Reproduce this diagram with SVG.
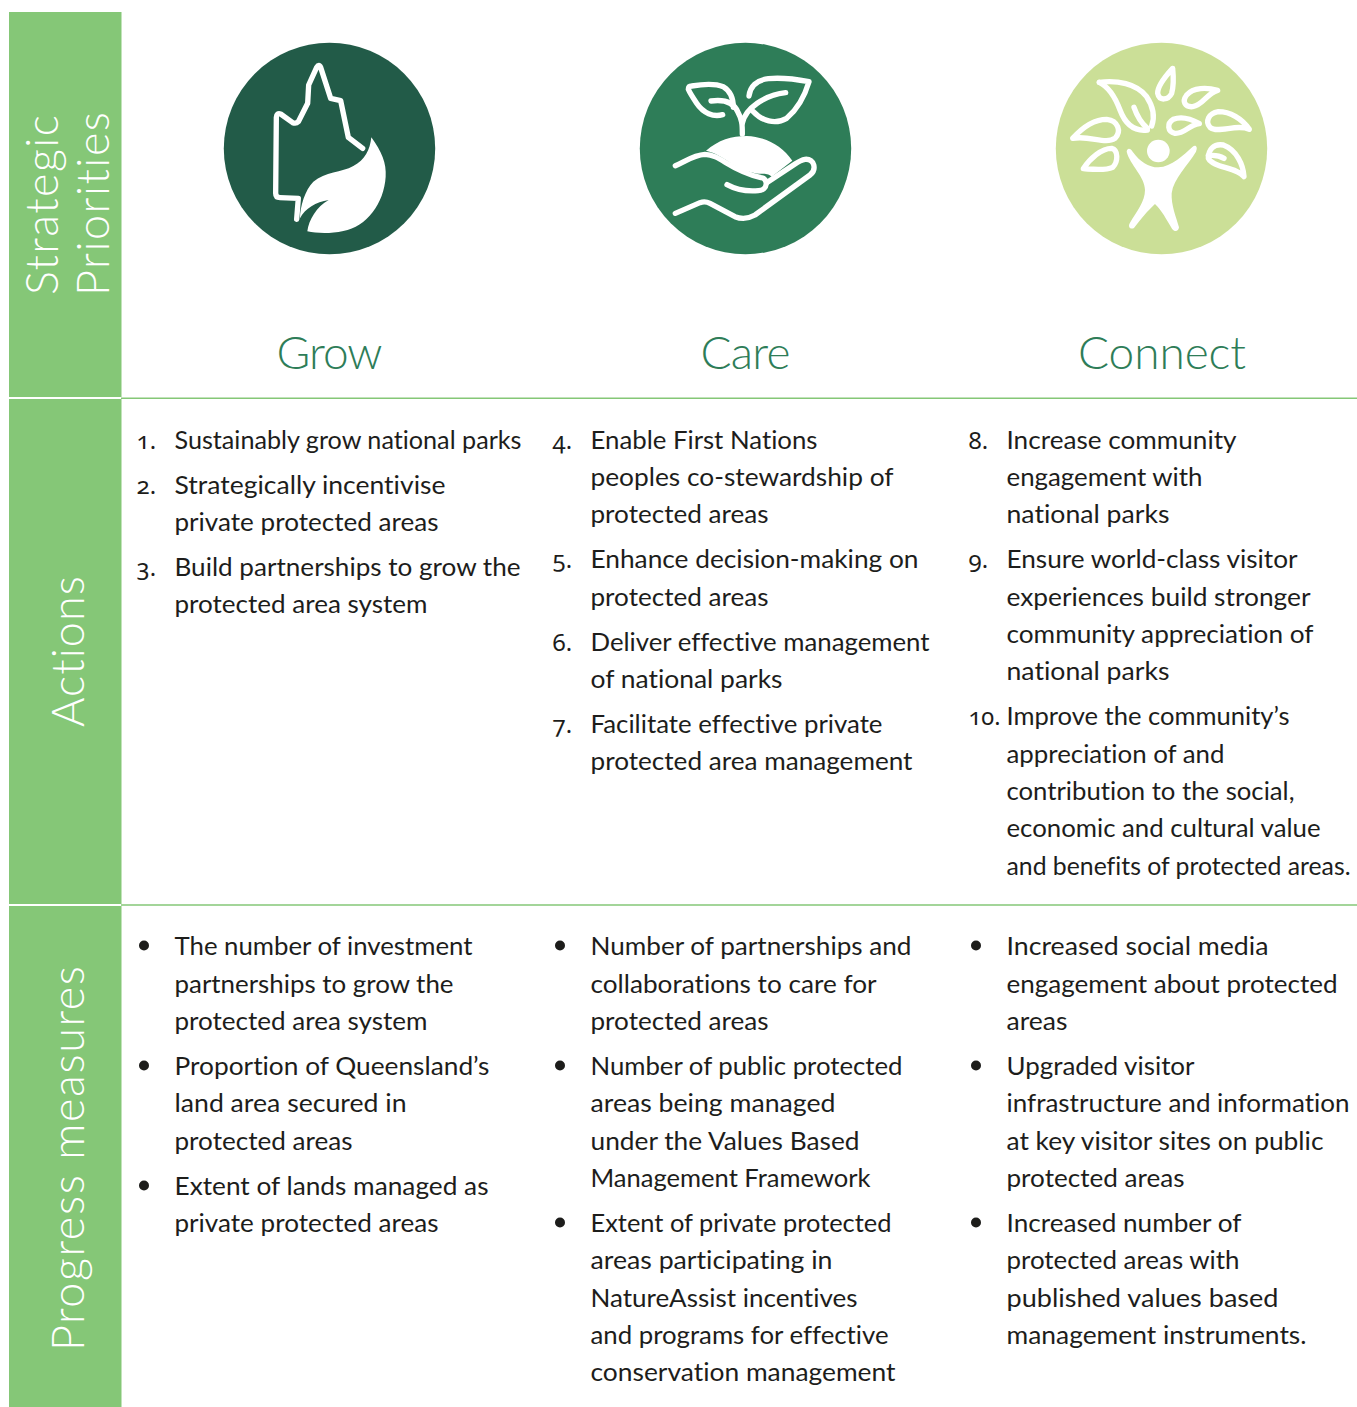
<svg xmlns="http://www.w3.org/2000/svg" width="1357" height="1407" viewBox="0 0 1357 1407">
<style>
text{font-family:"Lato","Noto Sans",sans-serif;font-variant-ligatures:none}
.t{font-size:25.5px;fill:#1d1d1b}
.n{font-family:"Noto Sans",sans-serif;font-size:24px;fill:#1d1d1b;font-variant-numeric:oldstyle-nums}
.s{font-size:45px;font-weight:300;fill:#fff}
.h{font-size:46px;font-weight:300;fill:#2e7d58}
.band{fill:#85c777}
.rule{stroke:#85c777;stroke-width:1.5}
.o{fill:none;stroke:#fff;stroke-width:16;stroke-linecap:round;stroke-linejoin:round}
.f{fill:#fff}
.d{fill:#1d1d1b}
</style>
<g id="sidebar">
<rect class="band" x="9" y="12" width="112.500" height="385"/>
<rect class="band" x="9" y="399" width="112.500" height="505"/>
<rect class="band" x="9" y="906" width="112.500" height="501"/>
<text class="s" transform="translate(57.500,295) rotate(-90)" textLength="180">Strategic</text>
<text class="s" transform="translate(108.500,296) rotate(-90)" textLength="184">Priorities</text>
<text class="s" transform="translate(84,727) rotate(-90)" textLength="151">Actions</text>
<text class="s" transform="translate(84,1351) rotate(-90)" textLength="385">Progress measures</text>
</g>
<g id="rules">
<line class="rule" x1="121" y1="398.200" x2="1357" y2="398.200"/>
<line class="rule" x1="121" y1="905" x2="1357" y2="905"/>
</g>
<g id="grow">
<circle cx="329.500" cy="148.500" r="105.700" fill="#225b48"/>
<g transform="translate(210,30) scale(.33333)">
<path class="o" d="M458 355 L415 322 L392 212 L362 205 L332 112 Q327 100 320 112 L296 165 L293 220 L265 275 Q258 282 248 278 L212 252 Q200 248 199 262 L197 490 Q197 503 210 503 L265 505 L260 568"/>
<path class="f" d="M484 322 C515 365 530 400 527 440 C522 520 470 590 400 603 C360 612 320 610 292 604 C296 570 320 530 356 510 C318 516 285 535 270 565 C270 530 285 480 310 455 C345 425 395 428 430 408 C465 390 480 360 484 322Z"/>
</g>
<text class="h" x="276.500" y="369" textLength="106">Grow</text>
</g>
<g id="care">
<circle cx="745.500" cy="148.500" r="105.700" fill="#2e7d58"/>
<g transform="translate(625,30) scale(.33333)">
<path class="o" d="M151 407 C180 395 205 375 240 373 C290 375 310 420 408 443 C430 445 430 480 400 482 C365 485 335 480 306 464"/>
<path class="o" d="M151 550 L225 518 Q240 512 255 520 L330 560 Q360 572 390 555 L555 435 C575 420 570 385 540 388 Q528 390 510 402 L425 458"/>
<path class="f" d="M243 362 C280 330 320 318 365 318 C420 320 470 345 502 392 L440 440 C425 425 410 435 385 428 C320 415 300 375 243 362Z"/>
<path class="o" d="M352 312 C352 285 352 270 338 245 C325 215 295 208 258 213"/>
<path class="o" d="M352 280 C360 235 420 195 482 188"/>
<path class="o" d="M293 254 C265 262 235 250 215 220 C205 205 195 190 190 178 Q190 168 200 168 C235 162 275 162 295 170 C320 185 325 210 325 232"/>
<path class="o" d="M372 198 C375 170 395 150 430 146 C470 142 515 148 552 155 C540 195 520 235 485 265 C450 285 410 272 385 245"/>
</g>
<text class="h" x="700.500" y="369" textLength="90">Care</text>
</g>
<g id="connect">
<circle cx="1161.500" cy="148.500" r="105.700" fill="#cbdf97"/>
<g transform="translate(1040,30) scale(.33333)">
<circle class="f" cx="355" cy="363" r="34"/>
<path class="f" d="M260 365 C262 352 272 355 278 365 C300 395 325 412 355 412 C395 410 430 375 458 350 C468 343 474 352 468 365 C445 405 400 445 395 490 C393 525 408 560 417 592 C415 606 403 606 396 596 C380 570 365 540 345 522 C325 540 300 570 282 594 C272 600 262 590 270 578 C290 545 315 515 315 480 C315 440 270 405 260 365Z"/>
<path class="o" d="M178 157 C230 150 290 160 320 200 C340 230 345 260 335 288"/>
<path class="o" d="M178 157 C205 170 225 200 240 240 C255 280 280 305 322 300"/>
<path class="o" d="M322 295 C305 280 290 255 282 232"/>
<path class="o" d="M398 115 C375 140 352 170 353 190 C358 215 385 210 395 190 C402 165 400 135 398 115Z"/>
<path class="o" d="M533 181 C500 172 460 172 440 195 C425 215 435 232 458 230 C490 225 500 190 533 181Z"/>
<path class="o" d="M478 281 C450 265 420 260 400 268 C380 280 382 305 405 310 C435 312 445 285 478 281Z"/>
<path class="o" d="M628 298 C605 265 570 245 535 245 C505 250 495 275 510 292 C535 312 590 280 628 298Z"/>
<path class="o" d="M98 325 C125 295 160 268 200 268 C235 272 245 305 225 325 C195 345 150 315 98 325Z"/>
<path class="o" d="M130 416 C150 385 185 355 215 355 C235 360 235 395 218 412 C195 423 160 418 130 416Z"/>
<path class="o" d="M612 440 C610 405 590 360 550 345 C520 340 505 360 505 385 C520 415 590 410 612 440Z"/>
<path class="o" d="M505 377 C520 375 540 378 552 385"/>
</g>
<text class="h" x="1078" y="369" textLength="168">Connect</text>
</g>
<g id="actions-grow">
<text class="n" x="136.500" y="449">1.</text>
<text class="n" x="136.500" y="494">2.</text>
<text class="n" x="136.500" y="576">3.</text>
<text class="t" x="174.500" y="449" textLength="347" lengthAdjust="spacingAndGlyphs">Sustainably grow national parks</text>
<text class="t" x="174.500" y="494" textLength="271" lengthAdjust="spacingAndGlyphs">Strategically incentivise</text>
<text class="t" x="174.500" y="531" textLength="264" lengthAdjust="spacingAndGlyphs">private protected areas</text>
<text class="t" x="174.500" y="576" textLength="346" lengthAdjust="spacingAndGlyphs">Build partnerships to grow the</text>
<text class="t" x="174.500" y="613" textLength="253" lengthAdjust="spacingAndGlyphs">protected area system</text>
</g>
<g id="actions-care">
<text class="n" x="552.500" y="449">4.</text>
<text class="n" x="552.500" y="568">5.</text>
<text class="n" x="552.500" y="651">6.</text>
<text class="n" x="552.500" y="733">7.</text>
<text class="t" x="590.500" y="449" textLength="227" lengthAdjust="spacingAndGlyphs">Enable First Nations</text>
<text class="t" x="590.500" y="486" textLength="303" lengthAdjust="spacingAndGlyphs">peoples co-stewardship of</text>
<text class="t" x="590.500" y="523" textLength="178" lengthAdjust="spacingAndGlyphs">protected areas</text>
<text class="t" x="590.500" y="568" textLength="328" lengthAdjust="spacingAndGlyphs">Enhance decision-making on</text>
<text class="t" x="590.500" y="606" textLength="178" lengthAdjust="spacingAndGlyphs">protected areas</text>
<text class="t" x="590.500" y="651" textLength="339" lengthAdjust="spacingAndGlyphs">Deliver effective management</text>
<text class="t" x="590.500" y="688" textLength="192" lengthAdjust="spacingAndGlyphs">of national parks</text>
<text class="t" x="590.500" y="733" textLength="292" lengthAdjust="spacingAndGlyphs">Facilitate effective private</text>
<text class="t" x="590.500" y="770" textLength="322" lengthAdjust="spacingAndGlyphs">protected area management</text>
</g>
<g id="actions-connect">
<text class="n" x="968.500" y="449">8.</text>
<text class="n" x="968.500" y="568">9.</text>
<text class="n" x="968.500" y="725" textLength="32" lengthAdjust="spacingAndGlyphs">10.</text>
<text class="t" x="1006.500" y="449" textLength="230" lengthAdjust="spacingAndGlyphs">Increase community</text>
<text class="t" x="1006.500" y="486" textLength="196" lengthAdjust="spacingAndGlyphs">engagement with</text>
<text class="t" x="1006.500" y="523" textLength="163" lengthAdjust="spacingAndGlyphs">national parks</text>
<text class="t" x="1006.500" y="568" textLength="291" lengthAdjust="spacingAndGlyphs">Ensure world-class visitor</text>
<text class="t" x="1006.500" y="606" textLength="304" lengthAdjust="spacingAndGlyphs">experiences build stronger</text>
<text class="t" x="1006.500" y="643" textLength="307" lengthAdjust="spacingAndGlyphs">community appreciation of</text>
<text class="t" x="1006.500" y="680" textLength="163" lengthAdjust="spacingAndGlyphs">national parks</text>
<text class="t" x="1006.500" y="725" textLength="283" lengthAdjust="spacingAndGlyphs">Improve the community’s</text>
<text class="t" x="1006.500" y="763" textLength="218" lengthAdjust="spacingAndGlyphs">appreciation of and</text>
<text class="t" x="1006.500" y="800" textLength="288" lengthAdjust="spacingAndGlyphs">contribution to the social,</text>
<text class="t" x="1006.500" y="837" textLength="314" lengthAdjust="spacingAndGlyphs">economic and cultural value</text>
<text class="t" x="1006.500" y="875" textLength="344" lengthAdjust="spacingAndGlyphs" style="font-size:25px">and benefits of protected areas.</text>
</g>
<g id="measures-grow">
<circle class="d" cx="144" cy="945.500" r="5"/>
<circle class="d" cx="144" cy="1065.500" r="5"/>
<circle class="d" cx="144" cy="1185.500" r="5"/>
<text class="t" x="174.500" y="955" textLength="298" lengthAdjust="spacingAndGlyphs">The number of investment</text>
<text class="t" x="174.500" y="993" textLength="279" lengthAdjust="spacingAndGlyphs">partnerships to grow the</text>
<text class="t" x="174.500" y="1030" textLength="253" lengthAdjust="spacingAndGlyphs">protected area system</text>
<text class="t" x="174.500" y="1075" textLength="315" lengthAdjust="spacingAndGlyphs">Proportion of Queensland’s</text>
<text class="t" x="174.500" y="1112" textLength="232" lengthAdjust="spacingAndGlyphs">land area secured in</text>
<text class="t" x="174.500" y="1150" textLength="178" lengthAdjust="spacingAndGlyphs">protected areas</text>
<text class="t" x="174.500" y="1195" textLength="314" lengthAdjust="spacingAndGlyphs">Extent of lands managed as</text>
<text class="t" x="174.500" y="1232" textLength="264" lengthAdjust="spacingAndGlyphs">private protected areas</text>
</g>
<g id="measures-care">
<circle class="d" cx="560" cy="945.500" r="5"/>
<circle class="d" cx="560" cy="1065.500" r="5"/>
<circle class="d" cx="560" cy="1222.500" r="5"/>
<text class="t" x="590.500" y="955" textLength="321" lengthAdjust="spacingAndGlyphs">Number of partnerships and</text>
<text class="t" x="590.500" y="993" textLength="286" lengthAdjust="spacingAndGlyphs">collaborations to care for</text>
<text class="t" x="590.500" y="1030" textLength="178" lengthAdjust="spacingAndGlyphs">protected areas</text>
<text class="t" x="590.500" y="1075" textLength="312" lengthAdjust="spacingAndGlyphs">Number of public protected</text>
<text class="t" x="590.500" y="1112" textLength="245" lengthAdjust="spacingAndGlyphs">areas being managed</text>
<text class="t" x="590.500" y="1150" textLength="269" lengthAdjust="spacingAndGlyphs">under the Values Based</text>
<text class="t" x="590.500" y="1187" textLength="280" lengthAdjust="spacingAndGlyphs">Management Framework</text>
<text class="t" x="590.500" y="1232" textLength="301" lengthAdjust="spacingAndGlyphs">Extent of private protected</text>
<text class="t" x="590.500" y="1269" textLength="242" lengthAdjust="spacingAndGlyphs">areas participating in</text>
<text class="t" x="590.500" y="1307" textLength="267" lengthAdjust="spacingAndGlyphs">NatureAssist incentives</text>
<text class="t" x="590.500" y="1344" textLength="298" lengthAdjust="spacingAndGlyphs">and programs for effective</text>
<text class="t" x="590.500" y="1381" textLength="305" lengthAdjust="spacingAndGlyphs">conservation management</text>
</g>
<g id="measures-connect">
<circle class="d" cx="976" cy="945.500" r="5"/>
<circle class="d" cx="976" cy="1065.500" r="5"/>
<circle class="d" cx="976" cy="1222.500" r="5"/>
<text class="t" x="1006.500" y="955" textLength="262" lengthAdjust="spacingAndGlyphs">Increased social media</text>
<text class="t" x="1006.500" y="993" textLength="331" lengthAdjust="spacingAndGlyphs">engagement about protected</text>
<text class="t" x="1006.500" y="1030" textLength="61" lengthAdjust="spacingAndGlyphs">areas</text>
<text class="t" x="1006.500" y="1075" textLength="188" lengthAdjust="spacingAndGlyphs">Upgraded visitor</text>
<text class="t" x="1006.500" y="1112" textLength="343" lengthAdjust="spacingAndGlyphs">infrastructure and information</text>
<text class="t" x="1006.500" y="1150" textLength="317" lengthAdjust="spacingAndGlyphs">at key visitor sites on public</text>
<text class="t" x="1006.500" y="1187" textLength="178" lengthAdjust="spacingAndGlyphs">protected areas</text>
<text class="t" x="1006.500" y="1232" textLength="235" lengthAdjust="spacingAndGlyphs">Increased number of</text>
<text class="t" x="1006.500" y="1269" textLength="233" lengthAdjust="spacingAndGlyphs">protected areas with</text>
<text class="t" x="1006.500" y="1307" textLength="272" lengthAdjust="spacingAndGlyphs">published values based</text>
<text class="t" x="1006.500" y="1344" textLength="300" lengthAdjust="spacingAndGlyphs">management instruments.</text>
</g>
</svg>
